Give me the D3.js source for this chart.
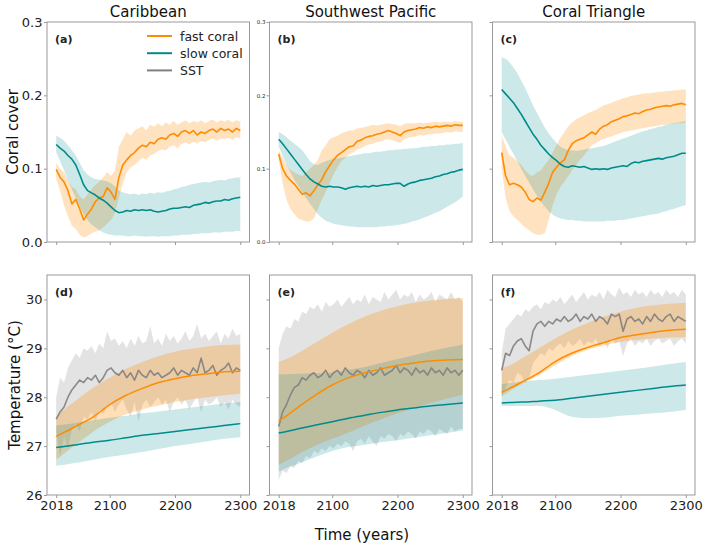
<!DOCTYPE html>
<html>
<head>
<meta charset="utf-8">
<script src="https://cdn.jsdelivr.net/npm/d3@7"></script>
<style>
  body { margin: 0; background: #fff; }
  svg { font-family: "DejaVu Sans", sans-serif; }
</style>
</head>
<body>
<svg id="chart" width="709" height="550"></svg>
<script>
// yearly samples (every 6 years) and smooth-curve knots
var years = d3.range(2018, 2301, 6);
var yearsSmooth = [2018, 2030, 2050, 2075, 2100, 2125, 2150, 2175, 2200, 2225, 2250, 2275, 2300];
var xTicks = [2018, 2100, 2200, 2300];
var coverTicks = [0, 0.1, 0.2, 0.3];
var tempTicks = [26, 27, 28, 29, 30];
var regions = ['Caribbean', 'Southwest Pacific', 'Coral Triangle'];
var letters = ['(a)', '(b)', '(c)', '(d)', '(e)', '(f)'];
var legendNames = ['fast coral', 'slow coral', 'SST'];

// ---- coral cover, Caribbean
var carFast = [0.099,0.088,0.082,0.070,0.052,0.058,0.045,0.030,0.038,0.045,0.055,0.060,0.062,0.074,0.068,0.058,0.088,0.105,0.112,0.118,0.122,0.128,0.132,0.130,0.136,0.134,0.140,0.142,0.140,0.146,0.148,0.144,0.150,0.152,0.148,0.152,0.146,0.150,0.148,0.152,0.154,0.150,0.155,0.152,0.154,0.150,0.155,0.152];
var carFastHi = [0.108,0.100,0.095,0.085,0.075,0.072,0.062,0.058,0.065,0.072,0.078,0.082,0.088,0.095,0.090,0.098,0.130,0.140,0.150,0.145,0.152,0.155,0.158,0.152,0.160,0.157,0.162,0.158,0.163,0.160,0.165,0.160,0.163,0.166,0.162,0.165,0.163,0.166,0.162,0.165,0.167,0.163,0.166,0.164,0.167,0.163,0.166,0.164];
var carFastLo = [0.086,0.070,0.050,0.035,0.022,0.018,0.010,0.006,0.008,0.012,0.014,0.016,0.020,0.025,0.030,0.040,0.060,0.080,0.095,0.102,0.105,0.110,0.115,0.112,0.118,0.120,0.124,0.126,0.125,0.130,0.132,0.128,0.134,0.136,0.133,0.137,0.134,0.138,0.136,0.139,0.141,0.138,0.141,0.140,0.142,0.139,0.143,0.141];
var carSlow = [0.133,0.128,0.124,0.118,0.113,0.105,0.092,0.078,0.070,0.067,0.064,0.060,0.057,0.053,0.048,0.043,0.040,0.041,0.043,0.042,0.044,0.043,0.044,0.043,0.044,0.042,0.041,0.042,0.043,0.045,0.046,0.046,0.047,0.048,0.047,0.050,0.051,0.052,0.054,0.053,0.055,0.056,0.056,0.058,0.057,0.059,0.060,0.061];
var carSlowHi = [0.145,0.142,0.138,0.132,0.125,0.118,0.108,0.098,0.092,0.088,0.086,0.085,0.084,0.083,0.080,0.076,0.070,0.068,0.066,0.065,0.066,0.064,0.066,0.065,0.067,0.066,0.068,0.067,0.069,0.070,0.072,0.073,0.075,0.076,0.078,0.079,0.080,0.081,0.082,0.081,0.083,0.084,0.085,0.084,0.086,0.087,0.088,0.088];
var carSlowLo = [0.122,0.110,0.098,0.085,0.072,0.060,0.048,0.038,0.030,0.024,0.020,0.016,0.013,0.011,0.010,0.009,0.009,0.009,0.008,0.008,0.009,0.008,0.008,0.007,0.008,0.008,0.007,0.008,0.008,0.008,0.009,0.009,0.010,0.010,0.010,0.011,0.011,0.012,0.012,0.012,0.013,0.013,0.013,0.014,0.014,0.014,0.015,0.015];

// ---- coral cover, Southwest Pacific
var swpFast = [0.120,0.100,0.090,0.084,0.079,0.072,0.065,0.067,0.063,0.070,0.078,0.085,0.096,0.104,0.112,0.118,0.122,0.126,0.130,0.131,0.137,0.139,0.142,0.144,0.145,0.147,0.148,0.150,0.152,0.150,0.148,0.145,0.150,0.152,0.153,0.154,0.156,0.155,0.157,0.156,0.158,0.157,0.158,0.159,0.158,0.160,0.159,0.159];
var swpFastHi = [0.125,0.115,0.105,0.098,0.095,0.092,0.090,0.095,0.100,0.105,0.112,0.125,0.132,0.140,0.143,0.145,0.148,0.150,0.152,0.152,0.155,0.155,0.157,0.158,0.160,0.159,0.160,0.161,0.162,0.161,0.160,0.158,0.161,0.162,0.162,0.162,0.163,0.162,0.163,0.163,0.164,0.163,0.164,0.164,0.163,0.165,0.164,0.164];
var swpFastLo = [0.112,0.080,0.058,0.045,0.038,0.032,0.030,0.028,0.028,0.032,0.045,0.058,0.068,0.080,0.092,0.102,0.110,0.115,0.120,0.122,0.126,0.128,0.131,0.133,0.134,0.136,0.137,0.139,0.140,0.139,0.137,0.135,0.140,0.142,0.143,0.144,0.146,0.145,0.147,0.147,0.148,0.148,0.149,0.150,0.149,0.151,0.150,0.150];
var swpSlow = [0.140,0.134,0.127,0.120,0.113,0.106,0.099,0.092,0.086,0.082,0.079,0.076,0.075,0.076,0.075,0.075,0.074,0.072,0.074,0.075,0.076,0.075,0.076,0.075,0.077,0.076,0.077,0.078,0.078,0.079,0.080,0.080,0.076,0.079,0.081,0.082,0.084,0.085,0.086,0.087,0.089,0.090,0.092,0.093,0.095,0.096,0.098,0.099];
var swpSlowHi = [0.150,0.147,0.143,0.138,0.134,0.130,0.125,0.118,0.110,0.106,0.105,0.108,0.110,0.112,0.113,0.114,0.115,0.116,0.117,0.118,0.119,0.120,0.121,0.121,0.122,0.123,0.123,0.124,0.125,0.125,0.126,0.126,0.127,0.127,0.128,0.128,0.129,0.130,0.130,0.131,0.131,0.132,0.132,0.133,0.133,0.134,0.134,0.135];
var swpSlowLo = [0.130,0.118,0.105,0.095,0.085,0.076,0.068,0.060,0.052,0.045,0.038,0.033,0.029,0.027,0.025,0.024,0.023,0.022,0.021,0.021,0.020,0.020,0.020,0.020,0.020,0.020,0.021,0.021,0.022,0.022,0.023,0.024,0.025,0.026,0.028,0.029,0.031,0.033,0.035,0.037,0.040,0.042,0.045,0.048,0.051,0.054,0.058,0.062];

// ---- coral cover, Coral Triangle
var ctFast = [0.122,0.090,0.078,0.080,0.078,0.075,0.068,0.058,0.055,0.060,0.057,0.068,0.080,0.095,0.102,0.108,0.112,0.125,0.134,0.138,0.140,0.142,0.146,0.150,0.147,0.154,0.158,0.160,0.164,0.166,0.168,0.171,0.172,0.174,0.176,0.175,0.178,0.180,0.181,0.183,0.184,0.185,0.186,0.185,0.187,0.188,0.189,0.187];
var ctFastHi = [0.145,0.130,0.118,0.115,0.110,0.105,0.098,0.092,0.090,0.095,0.098,0.105,0.112,0.122,0.132,0.142,0.150,0.158,0.163,0.167,0.170,0.173,0.176,0.178,0.180,0.183,0.186,0.188,0.190,0.192,0.194,0.196,0.197,0.199,0.200,0.201,0.202,0.203,0.203,0.204,0.205,0.205,0.206,0.206,0.207,0.207,0.208,0.208];
var ctFastLo = [0.100,0.060,0.042,0.035,0.030,0.025,0.020,0.016,0.012,0.010,0.010,0.012,0.030,0.050,0.065,0.075,0.082,0.090,0.098,0.105,0.112,0.118,0.125,0.132,0.135,0.138,0.140,0.142,0.144,0.146,0.148,0.150,0.151,0.152,0.153,0.154,0.155,0.156,0.157,0.158,0.159,0.160,0.160,0.161,0.161,0.162,0.162,0.163];
var ctSlow = [0.208,0.202,0.196,0.190,0.182,0.174,0.165,0.156,0.147,0.140,0.132,0.126,0.120,0.115,0.111,0.106,0.103,0.102,0.104,0.103,0.102,0.103,0.101,0.099,0.100,0.099,0.100,0.099,0.101,0.102,0.103,0.104,0.103,0.107,0.109,0.108,0.110,0.111,0.112,0.113,0.114,0.113,0.115,0.116,0.117,0.119,0.121,0.121];
var ctSlowHi = [0.252,0.250,0.245,0.238,0.230,0.220,0.210,0.198,0.186,0.176,0.166,0.156,0.148,0.141,0.135,0.130,0.127,0.125,0.125,0.124,0.125,0.126,0.127,0.128,0.129,0.130,0.131,0.133,0.135,0.137,0.139,0.141,0.143,0.145,0.147,0.149,0.151,0.152,0.154,0.155,0.157,0.158,0.160,0.161,0.162,0.163,0.164,0.165];
var ctSlowLo = [0.150,0.140,0.130,0.120,0.110,0.100,0.090,0.081,0.072,0.063,0.055,0.048,0.042,0.037,0.034,0.032,0.031,0.030,0.030,0.029,0.029,0.028,0.028,0.028,0.028,0.028,0.028,0.029,0.029,0.029,0.030,0.030,0.031,0.032,0.033,0.034,0.035,0.036,0.037,0.038,0.039,0.041,0.042,0.044,0.045,0.047,0.049,0.050];

// ---- temperature, Caribbean
var carSST = [27.55,27.70,27.80,28.00,28.15,28.25,28.35,28.30,28.40,28.35,28.45,28.30,28.40,28.55,28.60,28.50,28.45,28.55,28.40,28.50,28.35,28.55,28.45,28.40,28.55,28.45,28.50,28.40,28.45,28.50,28.60,28.45,28.55,28.50,28.45,28.60,28.50,28.80,28.50,28.55,28.65,28.45,28.55,28.60,28.70,28.50,28.60,28.55];
var carSSTHi = [28.00,28.40,28.30,28.60,28.75,28.90,28.80,29.00,28.95,29.05,28.90,29.10,29.00,29.35,29.15,29.20,29.05,29.15,29.00,29.20,29.05,29.25,29.10,29.15,29.45,29.10,29.20,29.05,29.30,29.15,29.25,29.10,29.20,29.35,29.15,29.25,29.50,29.20,29.30,29.15,29.25,29.35,29.10,29.30,29.20,29.40,29.25,29.30];
var carSSTLo = [27.30,26.80,27.20,26.95,27.35,27.45,27.30,27.60,27.55,27.70,27.50,27.75,27.65,27.80,27.90,27.70,27.85,27.95,27.75,27.60,27.90,27.50,27.85,27.95,27.80,27.90,28.00,27.85,27.95,27.70,27.90,28.00,27.85,27.95,27.75,27.90,28.00,27.70,27.95,27.85,27.90,28.00,27.80,27.90,27.75,27.95,27.85,27.80];
var carTFast = [27.20,27.28,27.42,27.60,27.85,28.04,28.18,28.30,28.38,28.44,28.48,28.52,28.53];
var carTFastHi = [27.60,27.75,27.95,28.20,28.40,28.58,28.72,28.84,28.93,28.99,29.04,29.07,29.08];
var carTFastLo = [26.72,26.85,27.05,27.30,27.50,27.65,27.75,27.83,27.90,27.96,28.00,28.04,28.07];
var carTSlow = [26.97,26.99,27.03,27.08,27.12,27.17,27.22,27.26,27.30,27.34,27.38,27.42,27.46];
var carTSlowHi = [27.42,27.44,27.48,27.53,27.58,27.62,27.67,27.71,27.75,27.79,27.83,27.87,27.90];
var carTSlowLo = [26.60,26.62,26.66,26.72,26.78,26.83,26.88,26.94,27.00,27.05,27.10,27.15,27.18];

// ---- temperature, Southwest Pacific
var swpSST = [27.40,27.70,27.85,28.05,28.20,28.25,28.40,28.35,28.45,28.50,28.40,28.45,28.55,28.40,28.50,28.55,28.45,28.60,28.50,28.45,28.55,28.50,28.40,28.55,28.45,28.50,28.60,28.45,28.50,28.55,28.65,28.50,28.60,28.55,28.45,28.60,28.50,28.55,28.45,28.60,28.50,28.55,28.45,28.60,28.50,28.55,28.45,28.55];
var swpSSTHi = [29.00,29.30,29.45,29.40,29.60,29.55,29.75,29.70,29.85,29.80,29.90,29.75,29.95,29.85,29.90,30.00,29.85,29.95,30.05,29.90,30.00,29.95,30.10,29.90,30.05,30.00,29.95,30.15,30.00,30.10,30.20,30.00,30.10,30.05,30.15,29.95,30.10,30.00,30.05,30.15,29.95,30.10,30.05,30.00,30.15,30.00,30.05,29.95];
var swpSSTLo = [26.30,26.50,26.45,26.60,26.55,26.70,26.65,26.80,26.75,26.90,26.85,26.95,26.90,27.00,26.95,27.05,27.00,27.10,27.05,26.90,27.10,27.15,27.05,27.20,27.10,27.00,27.20,27.15,27.25,27.20,27.10,27.25,27.20,27.30,27.25,27.15,27.30,27.25,27.35,27.30,27.20,27.35,27.30,27.25,27.40,27.30,27.35,27.35];
var swpTFast = [27.52,27.62,27.82,28.05,28.25,28.40,28.50,28.58,28.65,28.70,28.74,28.76,28.77];
var swpTFastHi = [28.72,28.78,28.92,29.12,29.32,29.50,29.65,29.77,29.86,29.93,29.98,30.01,30.03];
var swpTFastLo = [26.62,26.70,26.85,27.02,27.15,27.28,27.42,27.55,27.67,27.78,27.88,27.97,28.05];
var swpTSlow = [27.27,27.30,27.36,27.43,27.50,27.57,27.63,27.69,27.74,27.78,27.82,27.85,27.88];
var swpTSlowHi = [28.47,28.47,28.48,28.49,28.50,28.56,28.62,28.70,28.78,28.86,28.94,29.01,29.08];
var swpTSlowLo = [26.48,26.55,26.65,26.78,26.90,26.98,27.03,27.08,27.12,27.17,27.22,27.27,27.32];

// ---- temperature, Coral Triangle
var ctSST = [28.55,28.90,28.85,29.05,29.15,29.20,29.05,28.95,29.35,29.50,29.55,29.45,29.55,29.50,29.60,29.55,29.65,29.55,29.60,29.70,29.55,29.65,29.60,29.70,29.55,29.65,29.60,29.50,29.70,29.65,29.70,29.35,29.60,29.65,29.55,29.60,29.50,29.65,29.55,29.70,29.60,29.55,29.65,29.70,29.55,29.65,29.60,29.55];
var ctSSTHi = [28.90,29.40,29.50,29.60,29.70,29.65,29.80,29.75,29.85,29.90,29.80,29.95,29.90,30.00,29.95,30.05,29.90,30.00,30.10,29.95,30.05,30.15,30.00,30.10,30.05,30.15,30.00,30.20,30.10,30.05,30.25,30.10,30.15,30.05,30.20,30.10,30.15,30.05,30.20,30.10,30.15,30.05,30.20,30.10,30.15,30.05,30.20,30.10];
var ctSSTLo = [28.00,28.20,28.35,28.30,28.50,28.45,28.30,28.40,28.70,28.80,28.90,28.85,29.00,28.95,29.05,29.10,29.00,29.15,29.05,29.10,29.20,29.05,29.15,29.10,29.20,29.05,29.15,29.00,29.20,29.10,29.15,28.85,29.10,29.20,29.05,29.15,29.10,29.20,29.05,29.15,29.20,29.10,29.15,29.20,29.05,29.15,29.20,29.10];
var ctTFast = [28.10,28.18,28.32,28.50,28.73,28.90,29.02,29.12,29.22,29.28,29.33,29.37,29.39];
var ctTFastHi = [28.60,28.65,28.80,29.00,29.20,29.38,29.52,29.65,29.75,29.83,29.88,29.91,29.93];
var ctTFastLo = [28.02,28.12,28.28,28.45,28.66,28.84,28.97,29.06,29.13,29.17,29.20,29.22,29.23];
var ctTSlow = [27.88,27.89,27.90,27.92,27.94,27.98,28.02,28.06,28.10,28.14,28.18,28.22,28.25];
var ctTSlowHi = [28.27,28.29,28.32,28.35,28.38,28.42,28.46,28.50,28.54,28.58,28.63,28.68,28.72];
var ctTSlowLo = [27.82,27.82,27.82,27.82,27.74,27.60,27.57,27.58,27.62,27.64,27.67,27.70,27.74];

var FAST = '#ff8c00', SLOW = '#008b8b', SST = '#808080';

var svg = d3.select('#chart');
var lefts = [47, 269.5, 492.5], pw = 202.5;
var rows = [{top: 22, bottom: 242}, {top: 275, bottom: 495}];

function band(g, x, y, xs, lo, hi, color, op, curve) {
    var area = d3.area()
        .x(function (d, i) { return x(xs[i]); })
        .y0(function (d, i) { return y(lo[i]); })
        .y1(function (d, i) { return y(hi[i]); })
        .curve(curve);
    g.append('path').datum(lo).attr('d', area)
        .attr('fill', color).attr('fill-opacity', op).attr('stroke', 'none');
}

function line(g, x, y, xs, vals, color, width, op, curve) {
    var ln = d3.line()
        .x(function (d, i) { return x(xs[i]); })
        .y(function (d) { return y(d); })
        .curve(curve);
    g.append('path').datum(vals).attr('d', ln)
        .attr('fill', 'none').attr('stroke', color)
        .attr('stroke-width', width).attr('stroke-opacity', op)
        .attr('stroke-linejoin', 'round');
}

function drawPanel(p) {
    var x0 = lefts[p.col], row = rows[p.row];
    var x = d3.scaleLinear().domain([2003.9, 2314.1]).range([x0, x0 + pw]);
    var y = d3.scaleLinear().domain(p.yDomain).range([row.bottom, row.top]);
    var g = svg.append('g');

    p.draw(g, x, y);

    // frame
    g.append('rect')
        .attr('x', x0).attr('y', row.top)
        .attr('width', pw).attr('height', row.bottom - row.top)
        .attr('fill', 'none').attr('stroke', '#999').attr('stroke-width', 1);

    var xa = d3.axisBottom(x).tickValues(xTicks).tickSize(3).tickPadding(2.5)
        .tickFormat(p.row === 1 ? d3.format('d') : function () { return ''; });
    var gx = g.append('g').attr('transform', 'translate(0,' + row.bottom + ')').call(xa);

    var ya = d3.axisLeft(y).tickValues(p.yTicks).tickSize(3).tickPadding(p.yLabelSize > 8 ? 1.5 : 1)
        .tickFormat(p.yLabelSize ? p.yFmt : function () { return ''; });
    var gy = g.append('g').attr('transform', 'translate(' + x0 + ',0)').call(ya);

    [gx, gy].forEach(function (ax) {
        ax.select('.domain').remove();
        ax.selectAll('line').attr('stroke', '#999');
        ax.selectAll('text').attr('fill', '#222').style('font-family', '"DejaVu Sans", sans-serif');
    });
    gx.selectAll('text').style('font-size', '13px');
    gy.selectAll('text').style('font-size', (p.yLabelSize || 1) + 'px');

    g.append('text')
        .attr('x', x0 + 8).attr('y', row.top + 21)
        .style('font-size', '11px').style('font-weight', 'bold')
        .attr('fill', '#222')
        .text(letters[p.row * 3 + p.col]);
}

var cover = [
    [carFast, carFastLo, carFastHi, carSlow, carSlowLo, carSlowHi],
    [swpFast, swpFastLo, swpFastHi, swpSlow, swpSlowLo, swpSlowHi],
    [ctFast, ctFastLo, ctFastHi, ctSlow, ctSlowLo, ctSlowHi]
];
var temps = [
    [carSST, carSSTLo, carSSTHi, carTFast, carTFastLo, carTFastHi, carTSlow, carTSlowLo, carTSlowHi],
    [swpSST, swpSSTLo, swpSSTHi, swpTFast, swpTFastLo, swpTFastHi, swpTSlow, swpTSlowLo, swpTSlowHi],
    [ctSST, ctSSTLo, ctSSTHi, ctTFast, ctTFastLo, ctTFastHi, ctTSlow, ctTSlowLo, ctTSlowHi]
];

var coverLabelSizes = [13, 5.5, 0];
var tempLabelSizes = [13, 0, 0];

cover.forEach(function (s, c) {
    drawPanel({
        row: 0, col: c, yDomain: [0, 0.3], yTicks: coverTicks, yFmt: d3.format('.1f'),
        yLabelSize: coverLabelSizes[c],
        draw: function (g, x, y) {
            band(g, x, y, years, s[1], s[2], FAST, 0.25, d3.curveLinear);
            band(g, x, y, years, s[4], s[5], SLOW, 0.2, d3.curveLinear);
            line(g, x, y, years, s[0], FAST, 1.6, 1, d3.curveLinear);
            line(g, x, y, years, s[3], SLOW, 1.6, 1, d3.curveLinear);
        }
    });
});

temps.forEach(function (s, c) {
    drawPanel({
        row: 1, col: c, yDomain: [26, 30.5], yTicks: tempTicks, yFmt: d3.format('d'),
        yLabelSize: tempLabelSizes[c],
        draw: function (g, x, y) {
            band(g, x, y, years, s[1], s[2], '#b0b0b0', 0.35, d3.curveLinear);
            band(g, x, y, yearsSmooth, s[4], s[5], FAST, 0.28, d3.curveMonotoneX);
            band(g, x, y, yearsSmooth, s[7], s[8], SLOW, 0.2, d3.curveMonotoneX);
            line(g, x, y, years, s[0], SST, 1.6, 0.9, d3.curveLinear);
            line(g, x, y, yearsSmooth, s[3], FAST, 1.5, 1, d3.curveMonotoneX);
            line(g, x, y, yearsSmooth, s[6], SLOW, 1.5, 1, d3.curveMonotoneX);
        }
    });
});

// column titles
regions.forEach(function (r, c) {
    svg.append('text')
        .attr('x', lefts[c] + pw / 2).attr('y', 17)
        .attr('text-anchor', 'middle')
        .style('font-size', '15px').attr('fill', '#111')
        .text(r);
});

// axis titles
svg.append('text')
    .attr('transform', 'translate(18,132) rotate(-90)')
    .attr('text-anchor', 'middle').style('font-size', '15px').attr('fill', '#111')
    .text('Coral cover');
svg.append('text')
    .attr('transform', 'translate(20,385) rotate(-90)')
    .attr('text-anchor', 'middle').style('font-size', '15px').attr('fill', '#111')
    .text('Temperature (°C)');
svg.append('text')
    .attr('x', 362).attr('y', 540)
    .attr('text-anchor', 'middle').style('font-size', '15px').attr('fill', '#111')
    .text('Time (years)');

// legend in panel (a)
var legColors = [FAST, SLOW, SST];
var leg = svg.append('g').selectAll('g')
    .data(legendNames)
    .enter()
    .append('g')
    .attr('transform', function (d, i) {
        return 'translate(147,' + (36 + i * 17.2) + ')';
    });
leg.append('line')
    .attr('x1', 0).attr('x2', 25)
    .attr('stroke', function (d, i) { return legColors[i]; })
    .attr('stroke-width', 2);
leg.append('text')
    .attr('x', 33).attr('y', 4.5)
    .style('font-size', '12.5px').attr('fill', '#222')
    .text(function (d) { return d; });
</script>
</body>
</html>
